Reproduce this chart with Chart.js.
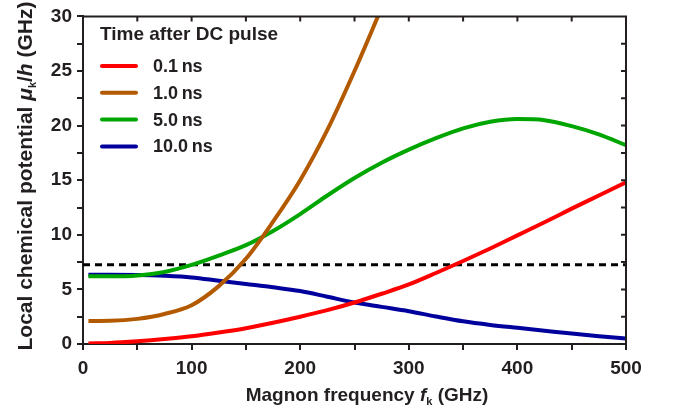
<!DOCTYPE html>
<html>
<head>
<meta charset="utf-8">
<script src="https://cdn.jsdelivr.net/npm/chart.js@4.4.1/dist/chart.umd.min.js"></script>
<style>
  html, body { margin: 0; padding: 0; background: #fff; }
  #wrap { width: 678px; height: 412px; position: relative; }
</style>
</head>
<body>
<div id="wrap"><canvas id="chart" width="678" height="412"></canvas></div>
<script>
// magnon frequency (GHz)
const freqs = [5, 25, 50, 75, 100, 125, 150, 175, 200, 225, 250, 275, 300, 325, 350, 375, 400, 425, 450, 475, 500];
// local chemical potential (GHz) for each time after the pulse
const mu01ns = [0.05, 0.1, 0.25, 0.45, 0.7, 1.05, 1.45, 1.95, 2.5, 3.1, 3.8, 4.6, 5.45, 6.5, 7.6, 8.75, 9.95, 11.15, 12.4, 13.6, 14.8];
const mu1ns = [2.1, 2.12, 2.3, 2.75, 3.55, 5.3, 7.8, 11.2, 15.0, 19.6, 25.0, 30.8, null, null, null, null, null, null, null, null, null];
const mu5ns = [6.2, 6.2, 6.28, 6.6, 7.25, 8.1, 9.05, 10.35, 11.9, 13.6, 15.2, 16.6, 17.8, 18.85, 19.75, 20.35, 20.6, 20.5, 19.95, 19.2, 18.2];
const mu10ns = [6.35, 6.35, 6.33, 6.25, 6.1, 5.8, 5.5, 5.2, 4.85, 4.33, 3.8, 3.4, 3.0, 2.52, 2.08, 1.75, 1.48, 1.22, 0.96, 0.72, 0.5];
const thresholdX = [0, 500];
const thresholdY = [7.25, 7.25];

const seriesLabels = ["0.1\u2009ns", "1.0\u2009ns", "5.0\u2009ns", "10.0\u2009ns"];
const seriesColors = ["#ff0000", "#b35a00", "#00a600", "#00009c"];
const seriesValues = [mu01ns, mu1ns, mu5ns, mu10ns];

const xTicks = [0, 100, 200, 300, 400, 500];
const yTicks = [0, 5, 10, 15, 20, 25, 30];

const FONT = "'Liberation Sans', Arial, sans-serif";
const INK = "#231f20";

function pts(xs, ys) {
  return xs.map((x, i) => ({ x: x, y: ys[i] }));
}

const datasets = seriesValues.map((vals, i) => ({
  label: seriesLabels[i],
  data: pts(freqs, vals),
  borderColor: seriesColors[i],
  borderWidth: 4,
  pointRadius: 0,
  fill: false,
  cubicInterpolationMode: "monotone",
  spanGaps: false,
}));
datasets.push({
  label: "threshold",
  data: pts(thresholdX, thresholdY),
  borderColor: "#000",
  borderWidth: 3,
  borderDash: [7, 5],
  pointRadius: 0,
  fill: false,
});

// draws text made of several runs (italic, subscript ...) centred on x,y
function drawRuns(ctx, runs, x, y, angle) {
  ctx.save();
  ctx.translate(x, y);
  ctx.rotate(angle);
  let total = 0;
  runs.forEach((r) => {
    ctx.font = r.font;
    total += ctx.measureText(r.text).width;
  });
  let cx = -total / 2;
  ctx.fillStyle = INK;
  ctx.textBaseline = "alphabetic";
  ctx.textAlign = "left";
  runs.forEach((r) => {
    ctx.font = r.font;
    ctx.fillText(r.text, cx, r.dy || 0);
    cx += ctx.measureText(r.text).width;
  });
  ctx.restore();
}

const decor = {
  id: "decor",
  afterDraw(chart) {
    const ctx = chart.ctx;
    const a = chart.chartArea;
    const xs = chart.scales.x;
    const ys = chart.scales.y;

    // top and right frame with inward ticks
    ctx.save();
    ctx.strokeStyle = INK;
    ctx.lineWidth = 2;
    ctx.beginPath();
    ctx.moveTo(a.left, a.top);
    ctx.lineTo(a.right, a.top);
    ctx.lineTo(a.right, a.bottom);
    for (let v = 50; v < 500; v += 50) {
      const px = xs.getPixelForValue(v);
      ctx.moveTo(px, a.top);
      ctx.lineTo(px, a.top + 5);
    }
    for (let v = 2.5; v < 30; v += 2.5) {
      const py = ys.getPixelForValue(v);
      ctx.moveTo(a.right, py);
      ctx.lineTo(a.right - 5, py);
    }
    ctx.stroke();
    ctx.restore();

    // axis titles
    const B = "bold 19px " + FONT;
    const BI = "italic bold 19px " + FONT;
    const S = "bold 11px " + FONT;
    drawRuns(ctx, [
      { text: "Magnon frequency ", font: B },
      { text: "f", font: BI },
      { text: "k", font: S, dy: 4 },
      { text: " (GHz)", font: B },
    ], 367, 401, 0);
    const YB = "bold 21px " + FONT;
    const YBI = "italic bold 21px " + FONT;
    drawRuns(ctx, [
      { text: "Local chemical potential ", font: YB },
      { text: "\u03bc", font: YBI },
      { text: "k", font: S, dy: 4 },
      { text: "/", font: YB },
      { text: "h", font: YBI },
      { text: " (GHz)", font: YB },
    ], 32, 176, -Math.PI / 2);

    // legend
    ctx.save();
    ctx.fillStyle = INK;
    ctx.textBaseline = "middle";
    ctx.textAlign = "left";
    ctx.font = "bold 19px " + FONT;
    ctx.fillText("Time after DC pulse", 100, 35);
    ctx.font = "bold 18px " + FONT;
    seriesLabels.forEach((lab, i) => {
      const y = 66 + i * 26.8;
      ctx.strokeStyle = seriesColors[i];
      ctx.lineWidth = 4;
      ctx.lineCap = "round";
      ctx.beginPath();
      ctx.moveTo(102, y);
      ctx.lineTo(136, y);
      ctx.stroke();
      ctx.fillStyle = INK;
      ctx.fillText(lab, 153, y + 1);
    });
    ctx.restore();
  },
};

new Chart(document.getElementById("chart"), {
  type: "line",
  data: { datasets: datasets },
  options: {
    responsive: false,
    animation: false,
    layout: { padding: { top: 9, right: 52, left: 0, bottom: 0 } },
    plugins: {
      legend: { display: false },
      tooltip: { enabled: false },
    },
    scales: {
      x: {
        type: "linear",
        min: 0,
        max: 500,
        afterFit: (s) => { s.height = 68; },
        afterBuildTicks: (s) => {
          const t = [];
          for (let v = 0; v <= 500; v += 50) t.push({ value: v });
          s.ticks = t;
        },
        ticks: {
          autoSkip: false,
          maxRotation: 0,
          padding: 7,
          color: INK,
          font: { family: FONT, size: 19, weight: "bold" },
          callback: (v) => (xTicks.includes(v) ? String(v) : ""),
        },
        grid: { drawOnChartArea: false, drawTicks: true, tickLength: 6, color: INK, lineWidth: 2 },
        border: { display: true, color: INK, width: 2 },
      },
      y: {
        min: 0,
        max: 30,
        afterFit: (s) => { s.width = 83; },
        afterBuildTicks: (s) => {
          const t = [];
          for (let v = 0; v <= 30; v += 2.5) t.push({ value: v });
          s.ticks = t;
        },
        ticks: {
          autoSkip: false,
          padding: 5,
          color: INK,
          font: { family: FONT, size: 19, weight: "bold" },
          callback: (v) => (yTicks.includes(v) ? String(v) : ""),
        },
        grid: { drawOnChartArea: false, drawTicks: true, tickLength: 6, color: INK, lineWidth: 2 },
        border: { display: true, color: INK, width: 2 },
      },
    },
  },
  plugins: [decor],
});
</script>
</body>
</html>
